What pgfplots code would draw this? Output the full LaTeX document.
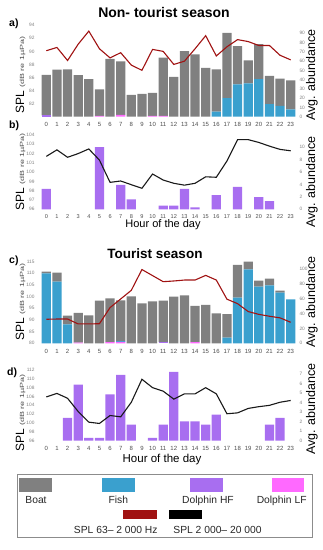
\documentclass[border=0pt]{standalone}
\usepackage{fontspec}
\setmainfont{Liberation Sans}
\usepackage{graphicx}
\usepackage{pgfplots}
\usepackage{pgfplotstable}
\pgfplotsset{compat=1.18}
\definecolor{boat}{RGB}{128,128,128}
\definecolor{fish}{RGB}{58,160,206}
\definecolor{dhf}{RGB}{168,110,240}
\definecolor{dlf}{RGB}{255,105,255}
\definecolor{splred}{RGB}{160,18,18}
\definecolor{splblack}{RGB}{25,25,25}

\pgfplotstableread{
h hf lf fish boat spl
0 1.5 0 0 43.7 90.1
1 0 0 0 50.7 90.6
2 0 0 0 51.0 88.6
3 0 0 0 44.8 91.1
4 0 0 0 40.4 93.1
5 0 1.0 0 28.4 90.4
6 0 0 0 62.5 89.0
7 0 2.0 0 57.6 89.8
8 0 0 0 23.5 87.9
9 0 0 0 24.6 87.1
10 0 1.0 0 24.7 90.3
11 0 1.0 0 62.6 90.0
12 0 0 0 43.0 88.0
13 0 0 0 70.6 88.5
14 0 0 0 67.3 90.4
15 0 0 0 52.6 92.4
16 0 0 5.5 45.6 89.3
17 0 0 20.0 70.4 90.7
18 0 0 35.0 41.0 91.8
19 0 0 36.0 24.7 91.5
20 0 0 40.4 37.9 90.9
21 0 0 13.6 30.4 90.9
22 0 0 11.8 29.4 89.4
23 0 0 8.0 31.3 88.7
}\dataA

\pgfplotstableread{
h hf spl
0 3.3 101.7
1 0 102.4
2 0 101.6
3 0 102.0
4 0 102.5
5 10.05 101.3
6 0 98.9
7 3.95 99.05
8 1.6 98.65
9 0 98.26
10 0 99.8
11 0.6 99.15
12 0.6 98.8
13 3.3 98.6
14 0.3 98.8
15 0 99.5
16 2.3 99.45
17 0 101.2
18 3.6 103.5
19 0 103.5
20 1.95 103.2
21 1.3 102.8
22 0 102.45
23 0 102.3
}\dataB

\pgfplotstableread{
h hf lf fish boat spl
0 0 0 94.6 2.2 90.3
1 0 0 83.3 12.2 90.4
2 0 0 25.7 11.7 90.4
3 0 1 0 40 88.3
4 0 0 0 37.8 88.3
5 0 0 0 57.7 88.4
6 0 1.5 0 59.3 95.3
7 0 2 1 55.1 99.0
8 0 0 0 63.5 102.7
9 0 0 0 54 111.6
10 0 0 0 56.8 109.0
11 1.5 0 0 56.2 106.4
12 0 0 0 63 106.7
13 0 0 0 64.9 107.1
14 0 1.5 0 49 107.1
15 0 0 0 51.8 109.1
16 0 0 0 40.5 107.1
17 0 0 7.7 31.9 98.9
18 0 0 61.7 44.2 97.0
19 0 0 100 10.4 93.6
20 0 0 76.6 8.1 92.4
21 0 0 78.4 9.0 91.6
22 0 0 68.5 2.7 90.9
23 0 0 59.5 0 89.0
}\dataC

\pgfplotstableread{
h hf spl
0 0 105.9
1 0 106.7
2 2.41 105.6
3 5.9 102.6
4 0.31 100.2
5 0.31 99.9
6 4.86 101.7
7 6.92 101.4
8 1.68 104.7
9 0 109.9
10 0.31 108.0
11 1.68 107.2
12 7.24 105.4
13 2.03 106.6
14 2.03 106.6
15 1.68 108.0
16 2.73 106.6
17 0 102.1
18 0 102.3
19 0 103.3
20 0 103.7
21 1.68 104.0
22 2.41 104.7
23 0 105.1
}\dataD

\pgfplotsset{
  base/.style={scale only axis, width=255pt, xmin=-0.5, xmax=23.5,
     axis line style={draw=none}, major tick length=0pt,
     /pgf/number format/assume math mode=true, clip=false},
  lineax/.style={base, xtick=\empty, ytick pos=left, yticklabel pos=left,
     yticklabel style={font=\fontsize{4.8}{5}\selectfont, text=black!50, xshift=-3pt}},
  barax/.style={base, ybar stacked, bar width=0.88, xtick={0,...,23},
     ytick pos=right, yticklabel pos=right,
     yticklabel style={font=\fontsize{4.8}{5}\selectfont, text=black!50},
     xticklabel style={font=\fontsize{6}{6}\selectfont, text=black!70, yshift=-2.5pt}},
}
\newcommand{\spllab}{{\fontsize{12}{12}\selectfont SPL}\hspace{3pt}\scalebox{1.5}[1]{\fontsize{6}{6}\selectfont\color{black!70}(dB re 1µPa)}}
\newcommand{\abulab}{\fontsize{12.5}{12.5}\selectfont Avg. abundance}

\begin{document}
\begin{tikzpicture}[x=1pt,y=1pt]
\useasboundingbox (0,0) rectangle (322,-550);

% ---------- panel a ----------
\begin{axis}[barax, at={(41pt,-116.7pt)}, anchor=south west, height=98pt,
  ymin=0, ymax=105.7, ytick={0,10,...,90}]
\addplot[fill=dhf, draw=none] table[x=h,y=hf] \dataA;
\addplot[fill=dlf, draw=none] table[x=h,y=lf] \dataA;
\addplot[fill=fish, draw=none] table[x=h,y=fish] \dataA;
\addplot[fill=boat, draw=none] table[x=h,y=boat] \dataA;
\end{axis}
\begin{axis}[lineax, at={(41pt,-116.7pt)}, anchor=south west, height=98pt,
  ymin=80, ymax=95.0, ytick={82,84,...,94}]
\addplot[splred, line width=1.1pt, mark=none] table[x=h,y=spl] \dataA;
\end{axis}

% ---------- panel b ----------
\begin{axis}[barax, at={(41pt,-209.3pt)}, anchor=south west, height=78.3pt,
  ymin=0, ymax=12.63, ytick={0,2,...,10},
  xticklabel style={font=\fontsize{5.6}{6}\selectfont, text=black!70, yshift=1pt}]
\addplot[fill=dhf, draw=none] table[x=h,y=hf] \dataB;
\end{axis}
\begin{axis}[lineax, at={(41pt,-209.3pt)}, anchor=south west, height=78.3pt,
  ymin=96, ymax=104.43, ytick={96,...,104}]
\addplot[splblack, line width=1.1pt, mark=none] table[x=h,y=spl] \dataB;
\end{axis}

% ---------- panel c ----------
\begin{axis}[barax, at={(41pt,-343.3pt)}, anchor=south west, height=87.3pt,
  ymin=0, ymax=118, ytick={0,20,...,100}]
\addplot[fill=dhf, draw=none] table[x=h,y=hf] \dataC;
\addplot[fill=dlf, draw=none] table[x=h,y=lf] \dataC;
\addplot[fill=fish, draw=none] table[x=h,y=fish] \dataC;
\addplot[fill=boat, draw=none] table[x=h,y=boat] \dataC;
\end{axis}
\begin{axis}[lineax, at={(41pt,-343.3pt)}, anchor=south west, height=87.3pt,
  ymin=80, ymax=117.4, ytick={80,85,...,115}]
\addplot[splred, line width=1.1pt, mark=none] table[x=h,y=spl] \dataC;
\end{axis}

% ---------- panel d ----------
\begin{axis}[barax, at={(41pt,-440.7pt)}, anchor=south west, height=74.7pt,
  ymin=0, ymax=7.85, ytick={0,...,7}]
\addplot[fill=dhf, draw=none] table[x=h,y=hf] \dataD;
\end{axis}
\begin{axis}[lineax, at={(41pt,-440.7pt)}, anchor=south west, height=74.7pt,
  ymin=96, ymax=112.9, ytick={96,98,...,112}]
\addplot[splblack, line width=1.1pt, mark=none] table[x=h,y=spl] \dataD;
\end{axis}

% ---------- titles and labels ----------
\node at (164,-12.8) {\fontsize{14}{14}\selectfont\bfseries Non- tourist season};
\node at (155,-253.5) {\fontsize{13.5}{13.5}\selectfont\bfseries Tourist season};
\node[anchor=base west, inner sep=0pt] at (9,-26.8) {\fontsize{10.5}{10.5}\selectfont\bfseries a)};
\node[anchor=base west, inner sep=0pt] at (9,-128.6) {\fontsize{10.5}{10.5}\selectfont\bfseries b)};
\node[anchor=base west, inner sep=0pt] at (9,-263) {\fontsize{10.5}{10.5}\selectfont\bfseries c)};
\node[anchor=base west, inner sep=0pt] at (7,-375.5) {\fontsize{10.5}{10.5}\selectfont\bfseries d)};

\node[rotate=90, anchor=base, inner sep=0pt] at (24,-75) {\spllab};
\node[rotate=90, anchor=base, inner sep=0pt] at (24,-171.7) {\spllab};
\node[rotate=90, anchor=base, inner sep=0pt] at (24,-302) {\spllab};
\node[rotate=90, anchor=base, inner sep=0pt] at (24,-413) {\spllab};

\node[rotate=90, anchor=base, inner sep=0pt] at (315,-75) {\abulab};
\node[rotate=90, anchor=base, inner sep=0pt] at (315,-182) {\abulab};
\node[rotate=90, anchor=base, inner sep=0pt] at (315,-302) {\abulab};
\node[rotate=90, anchor=base, inner sep=0pt] at (315,-409) {\abulab};

\node[anchor=base, inner sep=0pt] at (163,-227.3) {\fontsize{11}{11}\selectfont Hour of the day};
\node[anchor=base, inner sep=0pt] at (162,-462.5) {\fontsize{11.5}{11.5}\selectfont Hour of the day};

% ---------- legend ----------
\draw[black!45, line width=0.8pt] (17,-474) rectangle (312.5,-537.3);
\fill[boat] (19.3,-478.3) rectangle (52.3,-491.7);
\fill[fish] (101.7,-478.3) rectangle (135,-491.7);
\fill[dhf] (190,-478.3) rectangle (223.3,-491.7);
\fill[dlf] (271.7,-478.3) rectangle (304,-491.7);
\fill[splred] (123.3,-510) rectangle (156.7,-519.3);
\fill[black] (169.3,-510) rectangle (202.3,-519.3);
\begin{scope}[every node/.style={anchor=base, inner sep=0pt, font=\fontsize{10.3}{10.3}\selectfont, text=black!85}]
\node at (36,-503.3) {Boat};
\node at (118.3,-503.3) {Fish};
\node at (208,-503.3) {Dolphin HF};
\node at (281.7,-503.3) {Dolphin LF};
\node at (115.8,-533.3) {SPL 63– 2 000 Hz};
\node at (217.5,-533.3) {SPL 2 000– 20 000};
\end{scope}
\end{tikzpicture}
\end{document}
